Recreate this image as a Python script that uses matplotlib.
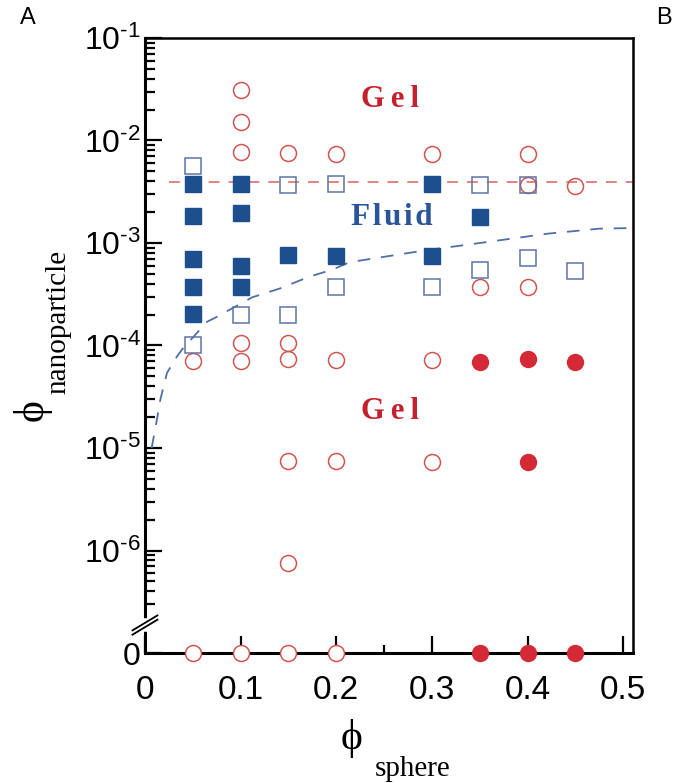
import matplotlib
matplotlib.use("Agg")
import matplotlib.pyplot as plt
from matplotlib.ticker import FixedLocator, FixedFormatter
from matplotlib.lines import Line2D
import numpy as np

plt.rcParams['font.family'] = ['Liberation Sans', 'DejaVu Sans']
plt.rcParams['mathtext.fontset'] = 'custom'
plt.rcParams['mathtext.rm'] = 'Liberation Sans'
plt.rcParams['mathtext.it'] = 'Liberation Sans:italic'
plt.rcParams['mathtext.bf'] = 'Liberation Sans:bold'

# --- data (phi_sphere, phi_nanoparticle); 0 = no nanoparticles ---
gel_open_x = [0.05, 0.05,
              0.1, 0.1, 0.1, 0.1, 0.1, 0.1,
              0.15, 0.15, 0.15, 0.15, 0.15, 0.15,
              0.2, 0.2, 0.2, 0.2,
              0.3, 0.3, 0.3,
              0.35,
              0.4, 0.4, 0.4,
              0.45]
gel_open_y = [7.1e-5, 0,
              3.1e-2, 1.52e-2, 7.7e-3, 1.06e-4, 7.0e-5, 0,
              7.6e-3, 1.06e-4, 7.4e-5, 7.5e-6, 7.6e-7, 0,
              7.4e-3, 7.2e-5, 7.4e-6, 0,
              7.4e-3, 7.2e-5, 7.3e-6,
              3.7e-4,
              7.3e-3, 3.7e-3, 3.7e-4,
              3.6e-3]

gel_filled_x = [0.35, 0.35, 0.4, 0.4, 0.4, 0.45, 0.45]
gel_filled_y = [6.9e-5, 0, 7.4e-5, 7.3e-6, 0, 6.9e-5, 0]

fluid_open_x = [0.05, 0.05, 0.1, 0.15, 0.15, 0.2, 0.2, 0.3, 0.35, 0.35, 0.4, 0.4, 0.45]
fluid_open_y = [5.7e-3, 1.0e-4, 2.0e-4, 3.7e-3, 2.0e-4, 3.75e-3, 3.7e-4, 3.7e-4,
                3.7e-3, 5.5e-4, 3.7e-3, 7.2e-4, 5.3e-4]

fluid_filled_x = [0.05, 0.05, 0.05, 0.05, 0.05, 0.1, 0.1, 0.1, 0.1, 0.15, 0.2, 0.3, 0.3, 0.35]
fluid_filled_y = [3.8e-3, 1.85e-3, 7.0e-4, 3.7e-4, 2.05e-4, 3.8e-3, 1.95e-3, 5.9e-4, 3.7e-4,
                  7.6e-4, 7.5e-4, 3.8e-3, 7.5e-4, 1.8e-3]

# upper gel boundary (horizontal) and lower fluid/gel boundary
upper_x = [0.025, 0.51]
upper_y = [3.9e-3, 3.9e-3]
lower_x = [0.007, 0.0125, 0.016, 0.023, 0.0334, 0.0386, 0.0647, 0.075, 0.112,
           0.141, 0.172, 0.196, 0.214, 0.294, 0.357, 0.42, 0.475, 0.51]
lower_y = [1.0e-5, 1.9e-5, 2.95e-5, 5.4e-5, 7.8e-5, 9.1e-5, 1.7e-4, 1.9e-4, 2.95e-4,
           3.6e-4, 4.7e-4, 5.5e-4, 6.5e-4, 8.5e-4, 1.02e-3, 1.23e-3, 1.38e-3, 1.4e-3]

y_floor = 1e-7   # where "0" sits on the axis

red = '#d42a35'
red_edge = '#cf5650'
blue = '#1d4f8f'
blue_edge = '#5d74a6'


def lift(y):
    y = np.asarray(y, dtype=float)
    return np.where(y == 0, y_floor, y)


fig = plt.figure(figsize=(6.91, 7.83), dpi=100)
ax = fig.add_axes([0.2098, 0.166, 0.706, 0.7855])
ax.set_yscale('log')
ax.set_xlim(0, 0.51)
ax.set_ylim(y_floor, 1e-1)

ax.plot(upper_x, upper_y, color='#e07878', lw=1.3, ls=(0, (6, 5)), zorder=2)
ax.plot(lower_x, lower_y, color='#4f6fa8', lw=1.3, ls=(0, (7, 6)), zorder=2)

ms_c = 11.5
ms_s = 11.3
gx, gy = np.array(gel_open_x), lift(gel_open_y)
zero = gy == y_floor
ax.plot(gx[~zero], gy[~zero], 'o', ms=ms_c, mfc='none', mec=red_edge, mew=1.1, zorder=3)
ax.plot(gx[zero], gy[zero], 'o', ms=ms_c, mfc='white', mec=red_edge, mew=1.1,
        zorder=4, clip_on=False)
ax.plot(gel_filled_x, lift(gel_filled_y), 'o', ms=ms_c, mfc=red, mec=red, mew=1,
        zorder=4, clip_on=False)
ax.plot(fluid_open_x, fluid_open_y, 's', ms=ms_s, mfc='none', mec=blue_edge, mew=1.1, zorder=3)
ax.plot(fluid_filled_x, fluid_filled_y, 's', ms=ms_s, mfc=blue, mec=blue, mew=1, zorder=3)

serif_b = ['Liberation Serif', 'DejaVu Serif']
ax.text(0.256, 2.5e-2, 'G\u2009e\u2009l', color='#c4212c', fontsize=22, fontweight='bold',
        family=serif_b, ha='center', va='center')
ax.text(0.258, 1.76e-3, 'F\u200al\u200au\u200ai\u200ad', color='#2a5598', fontsize=22.5,
        fontweight='bold', family=serif_b, ha='center', va='center')
ax.text(0.256, 2.26e-5, 'G\u2009e\u2009l', color='#c4212c', fontsize=22, fontweight='bold',
        family=serif_b, ha='center', va='center')

# ticks
ymaj = [y_floor, 1e-6, 1e-5, 1e-4, 1e-3, 1e-2, 1e-1]
ylab = ['0'] + ['$\\mathregular{10^{\u2010%d}}$' % k for k in (6, 5, 4, 3, 2, 1)]
ax.yaxis.set_major_locator(FixedLocator(ymaj))
ax.yaxis.set_major_formatter(FixedFormatter(ylab))
ymin = [m * 10.0 ** e for e in range(-7, -1) for m in range(2, 10)]
ymin = [v for v in ymin if v > 2.5e-7]
ax.yaxis.set_minor_locator(FixedLocator(ymin))
ax.yaxis.set_minor_formatter(FixedFormatter([''] * len(ymin)))

ax.set_xticks([0, 0.1, 0.2, 0.3, 0.4, 0.5])
ax.set_xticklabels(['0', '0.1', '0.2', '0.3', '0.4', '0.5'])
ax.set_xticks([0.05, 0.15, 0.25, 0.35, 0.45], minor=True)

ax.tick_params(which='both', direction='in', top=False, right=False, width=1.6,
               color='black')
ax.tick_params(axis='y', which='major', length=12, pad=3, labelsize=23)
ax.tick_params(axis='y', which='minor', length=7)
ax.tick_params(axis='x', which='major', length=12, pad=16, labelsize=24)
ax.tick_params(axis='x', which='minor', length=6)

for s in ax.spines.values():
    s.set_linewidth(1.8)
ax.spines['left'].set_linewidth(2.2)
ax.spines['bottom'].set_linewidth(2.2)

# axis break marks on the left spine
tr = ax.transAxes
bw = 12.5 / 488.0
bh = 7.5 / 615.0
yb = 0.0455
ax.add_line(Line2D([0, 0], [yb - 0.006, yb + 0.006], color='white', lw=4,
                   transform=tr, clip_on=False, zorder=5))
for dy in (-0.0035, 0.0035):
    ax.add_line(Line2D([-bw, bw], [yb + dy - bh, yb + dy + bh], color='black', lw=1.3,
                       transform=tr, clip_on=False, zorder=6))

# axis labels
serif = ['Liberation Serif', 'DejaVu Serif']
fig.text(32 / 691, 1 - 410 / 783, '\u03d5', fontsize=30, family=serif, rotation=90,
         ha='center', va='center')
fig.text(58 / 691, 1 - 322 / 783, 'nanoparticle', fontsize=21, family=serif, rotation=90,
         ha='center', va='center')
fig.text(352 / 691, 1 - 739 / 783, '\u03d5', fontsize=30, family=serif,
         ha='center', va='center')
fig.text(375 / 691, 1 - 776 / 783, 'sphere', fontsize=21, family=serif,
         ha='left', va='baseline')

fig.text(28 / 691, 1 - 18 / 783, 'A', fontsize=17, ha='center', va='center')
fig.text(664 / 691, 1 - 18 / 783, 'B', fontsize=17, ha='center', va='center')

fig.savefig('out.png', dpi=100)
